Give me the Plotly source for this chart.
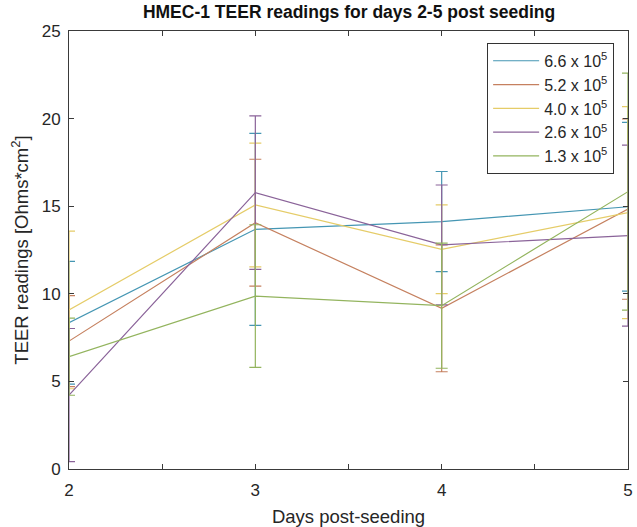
import plotly.graph_objects as go

days = [2, 3, 4, 5]
series_names = ["6.6 x 10<sup>5</sup>", "5.2 x 10<sup>5</sup>", "4.0 x 10<sup>5</sup>",
                "2.6 x 10<sup>5</sup>", "1.3 x 10<sup>5</sup>"]

teer_66 = [8.35, 13.68, 14.12, 14.97]
err_66 = [3.5, 5.48, 2.86, 4.82]

teer_52 = [7.3, 14.06, 9.17, 14.84]
err_52 = [2.6, 3.62, 3.62, 5.15]

teer_40 = [9.08, 15.07, 12.54, 14.63]
err_40 = [4.5, 3.53, 2.53, 6.05]

teer_26 = [4.22, 15.77, 12.79, 13.32]
err_26 = [3.8, 4.38, 3.42, 5.17]

teer_13 = [6.41, 9.87, 9.32, 15.83]
err_13 = [2.2, 4.07, 3.57, 6.76]

values = [teer_66, teer_52, teer_40, teer_26, teer_13]
errors = [err_66, err_52, err_40, err_26, err_13]
colors = ["#4596b3", "#c5805f", "#e5cc68", "#8a6399", "#93b45e"]

x_tickvals = [2, 2.5, 3, 3.5, 4, 4.5, 5]
x_ticktext = ["2", "", "3", "", "4", "", "5"]
y_tickvals = [0, 5, 10, 15, 20, 25]

fig = go.Figure()
for name, v, e, c in zip(series_names, values, errors, colors):
    fig.add_trace(go.Scatter(
        x=days, y=v, name=name, mode="lines",
        line=dict(color=c, width=1.2),
        error_y=dict(type="data", array=e, visible=True, color=c, thickness=1.2, width=6),
    ))

axis_color = "#3a3a3a"
fig.update_layout(
    width=637, height=527,
    margin=dict(l=69, r=9, t=31, b=58),
    paper_bgcolor="white", plot_bgcolor="white",
    font=dict(family="Liberation Sans, Arial, sans-serif", size=17, color="#262626"),
    title=dict(text="<b>HMEC-1 TEER readings for days 2-5 post seeding</b>",
               x=0.548, xanchor="center", y=0.978, yanchor="middle",
               font=dict(size=17.5, color="#111111")),
    showlegend=True,
    legend=dict(x=0.748, y=0.973, xanchor="left", yanchor="top",
                bordercolor="#333333", borderwidth=1, bgcolor="white",
                font=dict(size=16, color="#262626"),
                tracegroupgap=0, itemwidth=46),
    xaxis=dict(range=[2, 5], tickvals=x_tickvals, ticktext=x_ticktext,
               showgrid=False, zeroline=False, showline=True, linecolor=axis_color,
               linewidth=1, mirror="ticks", ticks="inside", ticklen=5,
               tickcolor=axis_color, ticklabelstandoff=6, automargin=False,
               title=dict(text="Days post-seeding", standoff=10, font=dict(size=18.5))),
    yaxis=dict(range=[0, 25], tickvals=y_tickvals,
               showgrid=False, zeroline=False, showline=True, linecolor=axis_color,
               linewidth=1, mirror="ticks", ticks="inside", ticklen=5,
               tickcolor=axis_color, ticklabelstandoff=4, automargin=False,
               title=dict(text="TEER readings [Ohms*cm<sup>2</sup>]", standoff=8,
                          font=dict(size=18.5))),
)

fig.write_html("out.html")
